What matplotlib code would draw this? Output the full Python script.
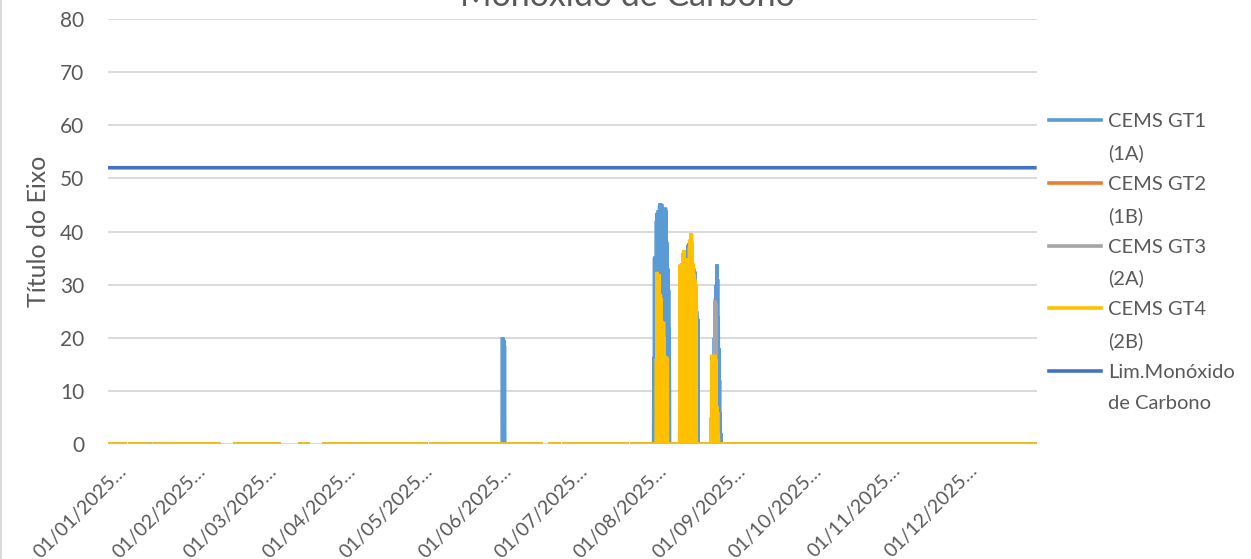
import numpy as np
import pandas as pd
import matplotlib
matplotlib.use('Agg')
import matplotlib.pyplot as plt
import matplotlib.transforms as mtransforms
from matplotlib.lines import Line2D

plt.rcParams['font.family'] = ['Lato', 'DejaVu Sans']

# readings every 3 hours through 2025, x = days since 01/01/2025
step = 0.125
days = np.arange(0, 365, step)

month_starts = pd.date_range('2025-01-01', periods=12, freq='MS')
month_pos = (month_starts.dayofyear - 1).tolist()
month_labels = [d.strftime('%d/%m/%Y') + '…' for d in month_starts]

# stretches with no readings (start day, end day)
gaps = [(7.5, 7.75), (17.25, 17.5), (44.25, 49.0), (68.0, 74.75), (79.25, 84.0),
        (95.75, 96.0), (125.75, 126.0), (171.0, 172.75), (178.0, 178.25), (204.75, 205.0)]

# non-zero readings (day, mg/Nm3); every other reading is 0
gt1_peaks = [
    (155.0, 20.1), (155.25, 19.9), (155.5, 19.6), (155.75, 18.5),
    (214.5, 16.4), (214.75, 35.0), (215.0, 35.3), (215.25, 34.5), (215.5, 42.0),
    (215.75, 43.5), (216.0, 42.5), (216.25, 44.0), (216.5, 42.0), (216.75, 45.0),
    (217.0, 45.3), (217.25, 44.5), (217.5, 45.2), (217.75, 44.8), (218.0, 43.0),
    (218.25, 42.0), (218.5, 30.0), (218.75, 44.3), (219.0, 44.5), (219.25, 44.0),
    (219.5, 38.0), (219.75, 30.0), (220.0, 33.0), (220.25, 29.0), (220.5, 22.0),
    (224.75, 28.0), (225.0, 30.0), (225.25, 31.0), (225.5, 30.5), (225.75, 31.0),
    (226.0, 32.0), (226.25, 33.0), (226.5, 32.0), (226.75, 31.5), (227.0, 32.0),
    (227.25, 33.0), (227.5, 33.5), (227.75, 36.0), (228.0, 37.5), (228.25, 37.8),
    (228.5, 36.0), (228.75, 35.0), (229.0, 35.5), (229.25, 34.0), (229.5, 33.5),
    (229.75, 33.0), (230.0, 32.0), (230.25, 33.0), (230.5, 32.5), (230.75, 28.0),
    (231.0, 26.0), (231.25, 25.0), (231.5, 24.0), (231.75, 23.5),
    (237.25, 5.0), (237.5, 10.0), (237.75, 14.0), (238.0, 16.0), (238.25, 20.0),
    (238.5, 25.0), (238.75, 27.5), (239.0, 30.0), (239.25, 33.8), (239.5, 31.0),
    (239.75, 24.0), (240.0, 18.0), (240.25, 12.0), (240.5, 6.0), (240.75, 2.0),
]
gt2_peaks = []
gt3_peaks = [(238.25, 12.0), (238.5, 27.0), (238.75, 26.5), (239.0, 5.0), (239.25, 2.0)]
gt4_peaks = [
    (215.5, 16.0), (215.75, 32.4), (216.0, 32.0), (216.25, 31.5), (216.5, 32.0),
    (216.75, 28.0), (217.0, 28.2), (217.25, 27.5), (217.5, 23.2), (217.75, 23.0),
    (218.0, 22.5), (218.25, 23.0), (218.5, 20.0), (218.75, 16.4), (219.0, 16.6),
    (219.25, 16.2), (219.5, 16.4), (219.75, 16.0),
    (224.75, 33.7), (225.0, 33.9), (225.25, 33.5), (225.5, 34.0), (225.75, 33.8),
    (226.0, 36.0), (226.25, 36.5), (226.5, 35.0), (226.75, 34.5), (227.0, 33.7),
    (227.25, 33.5), (227.5, 34.0), (227.75, 33.8), (228.0, 35.0), (228.25, 34.0),
    (228.5, 37.0), (228.75, 38.5), (229.0, 39.7), (229.25, 39.5), (229.5, 38.0),
    (229.75, 34.0), (230.0, 33.0), (230.25, 32.0), (230.5, 31.0), (230.75, 30.5),
    (231.0, 30.0),
    (237.0, 5.0), (237.25, 16.8), (237.5, 16.5), (237.75, 16.7), (238.0, 16.2),
    (238.25, 16.5), (238.5, 16.8), (238.75, 16.0), (239.0, 7.3), (239.25, 7.0),
    (239.5, 6.0), (239.75, 2.0),
]
limit_co = 52

series_names = ['CEMS GT1\n(1A)', 'CEMS GT2\n(1B)', 'CEMS GT3\n(2A)', 'CEMS GT4\n(2B)',
                'Lim.Monóxido\nde Carbono']
colors = ['#5B9BD5', '#ED7D31', '#A5A5A5', '#FFC000', '#4472C4']


def build(peaks):
    y = np.zeros_like(days)
    for d, v in peaks:
        y[int(round(d / step))] = v
    for a, b in gaps:
        y[(days >= a) & (days <= b)] = np.nan
    return y


fig = plt.figure(figsize=(12.51, 5.59), dpi=100)
ax = fig.add_axes([108 / 1251, 1 - 444 / 559, (1037 - 108) / 1251, (444 - 19) / 559])

all_series = [build(gt1_peaks), build(gt2_peaks), build(gt3_peaks), build(gt4_peaks),
              np.full_like(days, limit_co)]
for y, c in zip(all_series, colors):
    ax.plot(days, y, color=c, lw=2.6, solid_capstyle='butt', solid_joinstyle='miter')

ax.set_xlim(0, 365)
ax.set_ylim(0, 80)
ax.set_yticks(range(0, 81, 10))
ax.grid(axis='y', color='#D9D9D9', lw=1.4)
ax.set_axisbelow(True)
for s in ax.spines.values():
    s.set_visible(False)
ax.tick_params(length=0, labelsize=14, labelcolor='#595959')
ax.tick_params(axis='y', labelsize=15, pad=17)
ax.tick_params(axis='x', pad=13)

ax.set_xticks(month_pos)
ax.set_xticklabels(month_labels, rotation=45, ha='right', va='top', rotation_mode='anchor')
# Excel puts the end of each slanted label a little right of its date
shift = mtransforms.ScaledTranslation(10 / 100, 0, fig.dpi_scale_trans)
for lab in ax.xaxis.get_majorticklabels():
    lab.set_transform(lab.get_transform() + shift)

ax.set_ylabel('Título do Eixo', fontsize=18, color='#595959', labelpad=7)

fig.text(627 / 1251, 1 - 6.5 / 559, 'Monóxido de Carbono', ha='center', va='baseline',
         fontsize=24.5, color='#595959')

# legend: each name wraps onto two rows, line marker on the first row
handles, labels = [], []
for name, c in zip(series_names, colors):
    first, second = name.split('\n')
    handles += [Line2D([], [], color=c, lw=2.6), Line2D([], [], color='none')]
    labels += [first, second]
fig.legend(handles, labels, loc='upper left', bbox_to_anchor=(1049 / 1251, 1 - 113 / 559),
           frameon=False, fontsize=14.5, labelcolor='#595959', handlelength=2.6,
           handletextpad=0.35, labelspacing=0.69, borderpad=0, borderaxespad=0)

fig.add_artist(Line2D([0.6 / 1251, 0.6 / 1251], [0, 1], color='#D9D9D9', lw=1.5))

fig.savefig('out.png', dpi=100)
